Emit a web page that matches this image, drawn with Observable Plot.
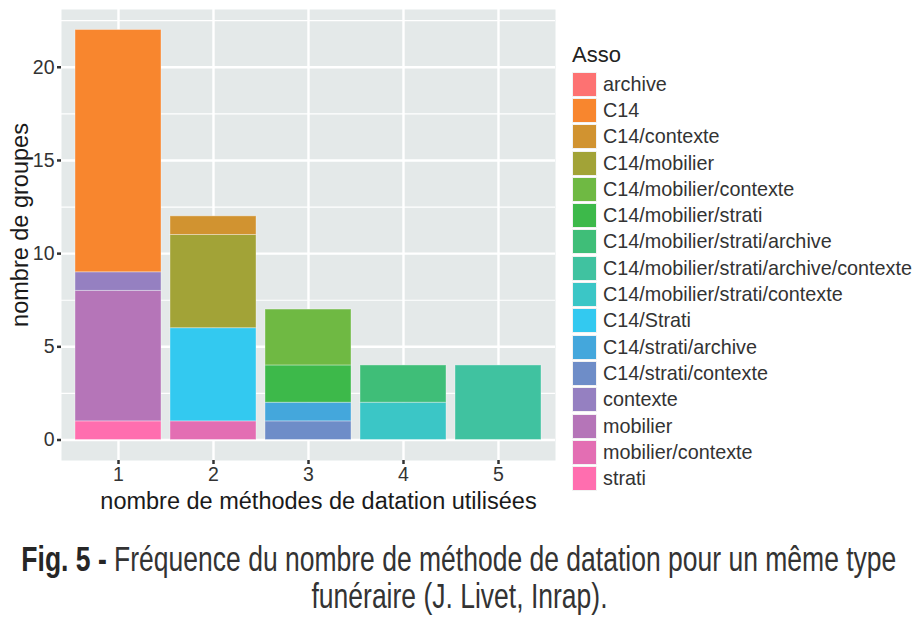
<!DOCTYPE html>
<html>
<head>
<meta charset="utf-8">
<script src="https://cdn.jsdelivr.net/npm/d3@7"></script>
<script src="https://cdn.jsdelivr.net/npm/@observablehq/plot@0.6"></script>
<style>
  html, body { margin: 0; padding: 0; background: #fff; }
  #wrap { position: relative; width: 918px; height: 619px; font-family: "Liberation Sans", Arial, sans-serif; overflow: hidden; }
  #chart { position: absolute; left: 0; top: 0; }
  #legend { position: absolute; left: 572px; top: 38px; color: #333; }
  #legend .title { font-size: 22px; height: 33px; line-height: 33px; color: #222; }
  #legend .item { display: flex; align-items: center; height: 26.3px; }
  #legend .key { width: 23px; height: 23px; border: 1px solid #f2f2f2; box-sizing: content-box; margin-right: 6px; }
  #legend .lab { font-size: 19.8px; white-space: nowrap; }
  #caption { position: absolute; left: 0; top: 540px; width: 918px;
             font-family: "Liberation Sans", Arial, sans-serif; font-size: 35px; line-height: 37px; color: #333; }
  #caption .line { height: 37px; white-space: nowrap; display: flex; justify-content: center; }
  #caption .line span.in { display: block; flex: none; transform-origin: 50% 50%; }
  #caption b { color: #262626; }
  #chart [aria-label$="-axis tick"] path { stroke: #333 !important; stroke-width: 2.5px !important; }
</style>
</head>
<body>
<div id="wrap">
  <div id="chart"></div>
  <div id="legend"></div>
  <div id="caption">
    <div class="line"><span class="in"><b>Fig. 5 -</b> Fréquence du nombre de méthode de datation pour un même type</span></div>
    <div class="line"><span class="in">funéraire (J. Livet, Inrap).</span></div>
  </div>
</div>
<script>
// Legend levels (factor order) and their colours
const levels = ["archive", "C14", "C14/contexte", "C14/mobilier", "C14/mobilier/contexte",
  "C14/mobilier/strati", "C14/mobilier/strati/archive", "C14/mobilier/strati/archive/contexte",
  "C14/mobilier/strati/contexte", "C14/Strati", "C14/strati/archive", "C14/strati/contexte",
  "contexte", "mobilier", "mobilier/contexte", "strati"];
const colors = ["#FD7272", "#F8862E", "#D19330", "#A2A337", "#6FB943",
  "#3DB94A", "#3FBE78", "#40C2A0", "#3BC6C6", "#33C9F0", "#44A7DC", "#6E8DC8",
  "#9580C1", "#B575B8", "#E36EB3", "#FF6EAF"];

// Stacked bar data
const methods = [1, 1, 1, 1, 2, 2, 2, 2, 3, 3, 3, 3, 4, 4, 5];
const assos = ["C14", "contexte", "mobilier", "strati",
  "C14/contexte", "C14/mobilier", "C14/Strati", "mobilier/contexte",
  "C14/mobilier/contexte", "C14/mobilier/strati", "C14/strati/archive", "C14/strati/contexte",
  "C14/mobilier/strati/archive", "C14/mobilier/strati/contexte",
  "C14/mobilier/strati/archive/contexte"];
const counts = [13, 1, 7, 1, 1, 5, 5, 1, 3, 2, 1, 1, 2, 2, 4];

const xTicks = ["1", "2", "3", "4", "5"];
const yMajor = [0, 5, 10, 15, 20];
const yMinor = [2.5, 7.5, 12.5, 17.5, 22.5];

const data = methods.map((m, i) => ({methode: String(m), asso: assos[i], n: counts[i]}))
  // ggplot stacks the first factor level on top: stack higher levels first
  .sort((a, b) => levels.indexOf(b.asso) - levels.indexOf(a.asso));

const plot = Plot.plot({
  width: 918,
  height: 520,
  marginLeft: 61,
  marginRight: 363,
  marginTop: 9,
  marginBottom: 60,
  style: {fontFamily: "Liberation Sans, Arial, sans-serif", background: "white", color: "#333"},
  x: {type: "band", domain: xTicks, paddingInner: 0.1, paddingOuter: 0.15, align: 0.5},
  y: {domain: [-1.1, 23.1]},
  color: {type: "ordinal", domain: levels, range: colors},
  marks: [
    Plot.frame({fill: "#E4E9E9", stroke: null}),
    Plot.gridY(yMinor, {stroke: "white", strokeOpacity: 1, strokeWidth: 1.2}),
    Plot.gridY(yMajor, {stroke: "white", strokeOpacity: 1, strokeWidth: 2.4}),
    Plot.gridX(xTicks, {stroke: "white", strokeOpacity: 1, strokeWidth: 2.4}),
    Plot.barY(data, {x: "methode", y: "n", fill: "asso", order: null,
      stroke: "white", strokeOpacity: 0.35, strokeWidth: 1}),
    Plot.axisY(yMajor, {tickSize: 4, tickPadding: 3, fontSize: 19.5, stroke: "#333", strokeWidth: 2.5,
      label: "nombre de groupes", labelArrow: false, labelAnchor: "center", labelOffset: 50}),
    Plot.axisX(xTicks, {tickSize: 4, tickPadding: 3, fontSize: 19.5, stroke: "#333", strokeWidth: 2.5,
      label: "nombre de méthodes de datation utilisées", labelArrow: false, labelAnchor: "center", labelOffset: 48})
  ]
});
// axis titles: size and small offsets like the reference
const shiftLabel = (sel, dx, dy) => plot.querySelectorAll(sel).forEach(g => {
  g.setAttribute("font-size", "23.5");
  g.setAttribute("fill", "#1a1a1a");
  g.querySelectorAll("text").forEach(t => { t.removeAttribute("font-size"); t.style.fontSize = "23.5px"; });
  g.setAttribute("transform", `translate(${dx},${dy}) ` + (g.getAttribute("transform") || ""));
});
shiftLabel("[aria-label='y-axis label']", 0, -10);
shiftLabel("[aria-label='x-axis label']", 10, 0);
document.getElementById("chart").appendChild(plot);

// Legend (HTML, beside the plot)
const legend = d3.select("#legend");
legend.append("div").attr("class", "title").text("Asso");
const items = legend.selectAll(".item").data(levels).join("div").attr("class", "item");
items.append("div").attr("class", "key").style("background", (d, i) => colors[i]);
items.append("div").attr("class", "lab").text(d => d);

// Caption: condensed like a narrow font
const lines = document.querySelectorAll("#caption .line span.in");
const w0 = lines[0].getBoundingClientRect().width;
const sx = 875 / w0;
lines.forEach(s => { s.style.transform = `scaleX(${sx})`; });
</script>
</body>
</html>
